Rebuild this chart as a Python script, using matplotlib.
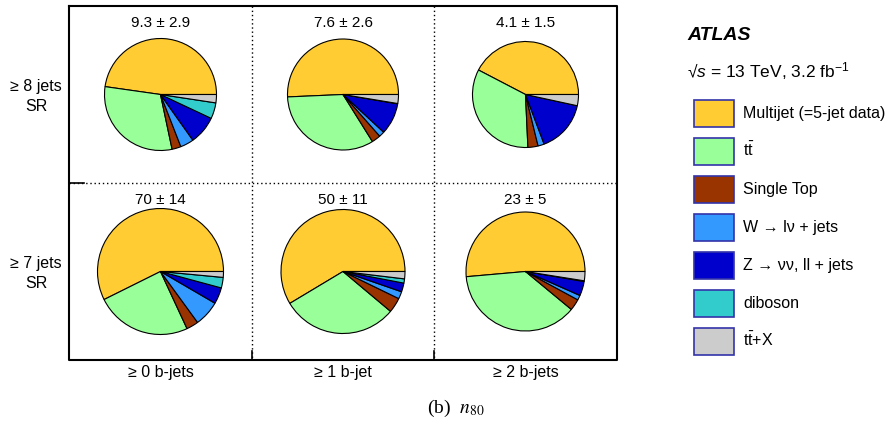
import matplotlib
matplotlib.use('Agg')
import matplotlib.pyplot as plt
from matplotlib.patches import Patch

plt.rcParams['font.family'] = ['Liberation Sans', 'DejaVu Sans']
plt.rcParams['mathtext.fontset'] = 'custom'
plt.rcParams['mathtext.rm'] = 'Liberation Sans'
plt.rcParams['mathtext.it'] = 'Liberation Sans:italic'
plt.rcParams['mathtext.bf'] = 'Liberation Sans:bold'

# --- data (percent of total yield per region) ---
processes = ['Multijet (=5-jet data)', r'$\mathrm{t\bar{t}}$', 'Single Top',
             'W → lν + jets', 'Z → νν, ll + jets', 'diboson', r'$\mathrm{t\bar{t}}$+X']
colors = ['#ffcc33', '#99ff99', '#993300', '#3399ff', '#0000cc', '#33cccc', '#cccccc']

row_labels = ['≥ 8 jets\nSR', '≥ 7 jets\nSR']
col_labels = ['≥ 0 b-jets', '≥ 1 b-jet', '≥ 2 b-jets']

totals = [['9.3 ± 2.9', '7.6 ± 2.6', '4.1 ± 1.5'],
          ['70 ± 14', '50 ± 11', '23 ± 5']]

frac_8j_0b = [47.8, 30.6, 2.6, 3.9, 8.2, 4.6, 2.4]
frac_8j_1b = [50.7, 33.2, 2.6, 1.6, 9.2, 0.1, 2.6]
frac_8j_2b = [42.4, 33.4, 3.1, 1.9, 15.9, 0.0, 3.4]
frac_7j_0b = [57.4, 24.6, 3.1, 6.6, 4.2, 2.7, 1.5]
frac_7j_1b = [58.6, 30.3, 3.9, 1.9, 2.3, 1.1, 1.9]
frac_7j_2b = [51.4, 37.6, 3.1, 1.3, 3.9, 0.2, 2.5]
fractions = [[frac_8j_0b, frac_8j_1b, frac_8j_2b],
             [frac_7j_0b, frac_7j_1b, frac_7j_2b]]

# --- layout (pixels, measured from top-left) ---
W, H = 885, 423
x_edges = [69, 252, 434, 617]
y_edges = [6, 183, 360]
radii = [[56, 55.5, 53], [63, 62, 59.5]]

fig = plt.figure(figsize=(W / 100, H / 100), dpi=100)
ax = fig.add_axes([0, 0, 1, 1])

for r in range(2):
    for c in range(3):
        cx = (x_edges[c] + x_edges[c + 1]) / 2
        cy = (y_edges[r] + y_edges[r + 1]) / 2
        # y axis is flipped below, so clockwise in data reads as ccw on screen
        ax.pie(fractions[r][c], colors=colors, startangle=0, counterclock=False,
               center=(cx, cy), radius=radii[r][c], frame=True, normalize=True,
               wedgeprops=dict(edgecolor='black', linewidth=0.8))
        ax.text(cx, y_edges[r] + 17, totals[r][c], ha='center', va='center', fontsize=11)

ax.set_xlim(0, W)
ax.set_ylim(H, 0)
ax.set_aspect('equal')
ax.axis('off')

# grid frame
ax.plot([x_edges[0], x_edges[-1], x_edges[-1], x_edges[0], x_edges[0]],
        [y_edges[0], y_edges[0], y_edges[-1], y_edges[-1], y_edges[0]],
        color='black', lw=1.5, solid_capstyle='projecting')
ax.plot([x_edges[0], x_edges[-1]], [y_edges[1]] * 2, color='black', lw=1, ls=(0, (1, 2)))
ax.plot([x_edges[0], x_edges[0] + 15], [y_edges[1]] * 2, color='black', lw=1.2)
for xe in x_edges[1:3]:
    ax.plot([xe, xe], [y_edges[0], y_edges[-1]], color='black', lw=1, ls=(0, (1, 2)))
    ax.plot([xe, xe], [y_edges[-1], y_edges[-1] - 9], color='black', lw=1.2)

for r in range(2):
    cy = (y_edges[r] + y_edges[r + 1]) / 2
    ax.text(36, cy + 2, row_labels[r], ha='center', va='center', fontsize=11.5,
            linespacing=1.45)
for c in range(3):
    cx = (x_edges[c] + x_edges[c + 1]) / 2
    ax.text(cx, 373, col_labels[c], ha='center', va='center', fontsize=11.5)

ax.text(456, 408, '(b)  $n_{80}$', ha='center', va='center', fontsize=14,
        family='Liberation Serif', math_fontfamily='stix')

# ATLAS label and legend
ax.text(687, 36, 'ATLAS', ha='left', va='center', fontsize=14,
        fontweight='bold', fontstyle='italic')
ax.text(687, 71, '√$s$ = 13 TeV, 3.2 fb$^{-1}$', ha='left', va='center', fontsize=12.5)

handles = [Patch(facecolor=col, edgecolor='#3333aa', linewidth=1.2) for col in colors]
fig.legend(handles, processes, loc='upper left',
           bbox_to_anchor=(694 / W, 1 - 100 / H), frameon=False,
           borderpad=0, borderaxespad=0, fontsize=11.5,
           handlelength=2.5, handleheight=2.22, labelspacing=0.69,
           handletextpad=0.56)

fig.savefig('out.png', dpi=100)
